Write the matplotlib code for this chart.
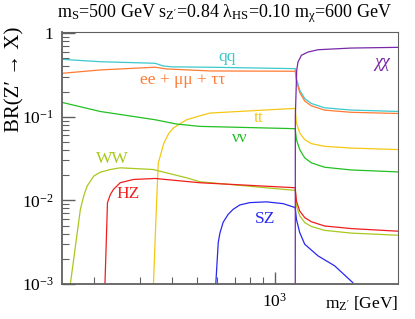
import matplotlib
matplotlib.use("Agg")
import matplotlib.pyplot as plt
from matplotlib.ticker import FixedLocator, NullFormatter

plt.rcParams['font.family'] = ['Liberation Serif', 'DejaVu Serif']
plt.rcParams['mathtext.fontset'] = 'custom'
plt.rcParams['mathtext.rm'] = 'Liberation Serif'
plt.rcParams['mathtext.it'] = 'Liberation Serif:italic'
plt.rcParams['mathtext.default'] = 'regular'

# ---- data (m_Z' in GeV, branching ratios) ----
qq_x = [150.6, 211, 344, 369.5, 400, 561, 1200, 1213, 1249, 1306, 1386, 1559, 1977, 3000]
qq_y = [0.486, 0.455, 0.436, 0.405, 0.395, 0.391, 0.376, 0.286, 0.208, 0.165, 0.144, 0.128, 0.1202, 0.1157]

ll_x = [150.6, 211, 344, 381, 561, 1200, 1213, 1249, 1306, 1386, 1559, 1977, 3000]
ll_y = [0.331, 0.363, 0.391, 0.373, 0.353, 0.350, 0.268, 0.195, 0.154, 0.135, 0.120, 0.113, 0.1094]

tt_x = [339, 344, 349, 354, 372, 388, 405, 430, 456, 513, 561, 1200, 1213, 1249, 1306, 1386, 1559, 1977, 3000]
tt_y = [0.001, 0.00327, 0.0103, 0.0281, 0.0486, 0.0628, 0.0733, 0.0827, 0.0921, 0.1027, 0.1107, 0.126,
        0.0841, 0.064, 0.0532, 0.0477, 0.0443, 0.0422, 0.0405]

nn_x = [150.6, 211, 344, 417, 513, 1200, 1213, 1249, 1306, 1386, 1559, 1977, 3000]
nn_y = [0.148, 0.1156, 0.0921, 0.0818, 0.0767, 0.0720, 0.0532, 0.0405, 0.0322, 0.0281, 0.0249, 0.0231, 0.0219]

ww_x = [161.6, 176.7, 182, 187.6, 199, 211, 231, 252, 338, 456, 513, 1200, 1213, 1249, 1306, 1386, 1559, 1977, 3000]
ww_y = [0.001, 0.00781, 0.01125, 0.0148, 0.0195, 0.0217, 0.0234, 0.0245, 0.0234, 0.0186, 0.0167, 0.01315,
        0.00855, 0.00654, 0.00542, 0.00487, 0.00438, 0.00406, 0.00383]

hz_x = [220, 225, 231, 237.4, 252, 283.7, 344, 513, 1200, 1213, 1249, 1306, 1386, 1559, 1977, 3000]
hz_y = [0.001, 0.0094, 0.0118, 0.01352, 0.01625, 0.01778, 0.01828, 0.01625, 0.01416, 0.0098, 0.00746,
        0.00622, 0.00555, 0.00494, 0.0046, 0.00428]

sz_x = [591, 604, 613, 631, 660, 690, 733, 801, 929, 1077, 1200, 1213, 1249, 1306, 1470, 1705, 2004]
sz_y = [0.001, 0.00313, 0.00405, 0.00547, 0.00681, 0.00782, 0.00883, 0.0094, 0.0096, 0.00914, 0.0082,
        0.00594, 0.00412, 0.00299, 0.00217, 0.00165, 0.00104]

xx_x = [1200, 1201, 1216, 1230, 1268, 1345, 1470, 1977, 3000]
xx_y = [1e-5, 0.1, 0.36, 0.452, 0.543, 0.594, 0.633, 0.663, 0.676]

series = [
    (qq_x, qq_y, '#3cc8cc', 'qq'),
    (ll_x, ll_y, '#ff7a33', 'ee + μμ + ττ'),
    (tt_x, tt_y, '#f5c814', 'tt'),
    (nn_x, nn_y, '#22c022', 'νν'),
    (ww_x, ww_y, '#a8c81e', 'WW'),
    (hz_x, hz_y, '#f01e1e', 'HZ'),
    (sz_x, sz_y, '#2828f0', 'SZ'),
    (xx_x, xx_y, '#7828a8', 'χχ'),
]

# label anchor positions in pixels (x center, baseline y)
label_pos = {
    'qq': (227, 61), 'ee + μμ + ττ': (183, 84), 'tt': (259, 121.7),
    'νν': (240, 141.7), 'χχ': (382, 66.7), 'WW': (112, 163.3),
    'HZ': (128.5, 198.3), 'SZ': (265, 222.7),
}

W, H = 415, 319
fig = plt.figure(figsize=(W / 100, H / 100), dpi=100)
L, R, T, B = 62, 398, 31.7, 284
ax = fig.add_axes([L / W, 1 - B / H, (R - L) / W, (B - T) / H])
ax.set_xscale('log')
ax.set_yscale('log')
ax.set_xlim(150, 3000)
ax.set_ylim(1e-3, 1.04)

for xs, ys, col, lab in series:
    ax.plot(xs, ys, color=col, lw=0.9, solid_joinstyle='round')
    px, py = label_pos[lab]
    ax.text((px - L) / (R - L), (B - py) / (B - T), lab, color=col,
            fontsize=13 if lab == 'χχ' else 12.5,
            style='italic' if lab == 'χχ' else 'normal',
            ha='center', va='baseline', transform=ax.transAxes)

ax.xaxis.set_major_locator(FixedLocator([1000]))
ax.xaxis.set_minor_locator(FixedLocator([200, 300, 400, 500, 600, 700, 800, 900]))
ax.xaxis.set_minor_formatter(NullFormatter())
ax.set_xticklabels(['$10^{3}$'])
ax.yaxis.set_major_locator(FixedLocator([1e-3, 1e-2, 1e-1, 1]))
ax.set_yticklabels(['$10^{-3}$', '$10^{-2}$', '$10^{-1}$', '1'])
ymin = []
for d in [1e-3, 1e-2, 1e-1]:
    ymin += [d * k for k in range(2, 10)]
ax.yaxis.set_minor_locator(FixedLocator(ymin))
ax.yaxis.set_minor_formatter(NullFormatter())

gray = '#606060'
for s in ax.spines.values():
    s.set_color(gray)
    s.set_linewidth(0.8)
ax.spines['left'].set_linewidth(1.3)
ax.spines['bottom'].set_linewidth(1.3)
ax.tick_params(which='both', direction='in', color=gray, labelsize=12.5, top=False, right=False)
ax.tick_params(which='major', length=9, width=1.0, pad=6)
ax.tick_params(which='minor', length=5, width=0.8)

fig.text(224.5 / W, 1 - 14 / H,
         "m$_{S}$=500 GeV s$_{Z'}$=0.84 λ$_{HS}$=0.10 m$_{χ}$=600 GeV",
         ha='center', va='center', fontsize=13)
fig.text(15 / W, 1 - 27 / H, "BR(Z′ → X)", rotation=90, ha='center', va='top', fontsize=15)
fig.text(398 / W, 1 - 304 / H, "m$_{Z'}$ [GeV]", ha='right', va='center', fontsize=12.5)

fig.savefig('out.png', dpi=100)
